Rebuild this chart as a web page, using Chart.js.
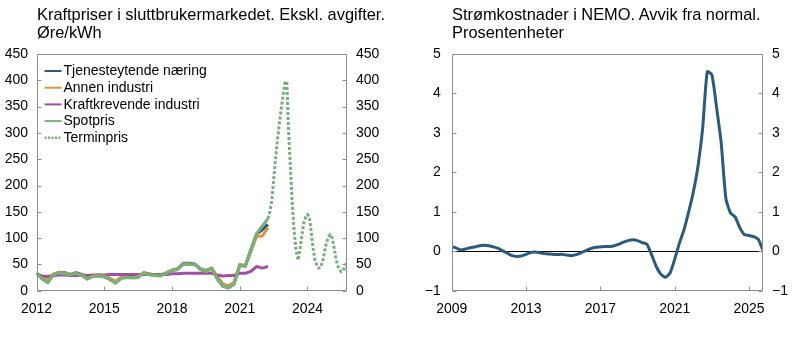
<!DOCTYPE html>
<html>
<head>
<meta charset="utf-8">
<script src="https://cdn.jsdelivr.net/npm/chart.js@4.4.1/dist/chart.umd.min.js"></script>
<style>
  html, body { margin: 0; padding: 0; background: #fff; }
  body { width: 797px; height: 346px; position: relative; overflow: hidden;
         font-family: "Liberation Sans", Arial, Helvetica, sans-serif; }
  .panel { position: absolute; top: 0; height: 346px; }
  .title { position: absolute; top: 5px; font-size: 16.4px; line-height: 18px; color: #000;
           white-space: nowrap; z-index: 2; }
</style>
</head>
<body>
<div class="panel" style="left:0;width:400px"><canvas id="prices" width="400" height="346"></canvas></div>
<div class="panel" style="left:400px;width:397px"><canvas id="nemo" width="397" height="346"></canvas></div>
<div class="title" style="left:37px">Kraftpriser i sluttbrukermarkedet. Ekskl. avgifter.<br>Øre/kWh</div>
<div class="title" style="left:452px">Strømkostnader i NEMO. Avvik fra normal.<br>Prosentenheter</div>

<script>
// ---------- Kraftpriser, kvartalstall fra 2012K1 (øre/kWh) ----------
const priceStartYear = 2012;
const tjenesteytende = [34,25,19,31, 35,34,31,34, 31,25,28,30, 28,23,17,25, 27,26,27,34,
                        32,30,30,34, 39,42,52,52, 51,42,38,43, 26,12,9,15, 49,48,79,108, 116,126];
const annenIndustri  = [33,24,19,31, 35,33,31,33, 30,24,28,29, 28,23,18,25, 26,25,27,34,
                        31,30,29,34, 39,41,51,51, 50,42,37,43, 25,11,9,14, 50,47,75,103, 104,120];
const kraftkrevende  = [31,28,27,29, 30,30,29,29, 30,29,30,30, 30,31,31,31, 31,31,31,31,
                        31,31,31,31, 32,32,33,33, 33,33,33,33, 30,28,29,29, 33,33,37,46, 43,46];
const spotpris       = [33,22,15,30, 34,32,30,33, 29,22,27,28, 26,21,14,23, 25,24,25,33,
                        30,29,28,33, 38,40,50,50, 50,40,36,42, 22,8,5,12, 48,46,78,109, 123,137];

// Terminpriser, månedlig fra april 2022
const terminStart = { year: 2022, month: 4 };
const terminpris = [137,150,170,210,250,285,315,345,370,395,398,300,230,160,110,75,58,78,105,128,
                    140,145,140,112,80,58,48,43,44,55,72,90,101,107,102,85,64,48,40,36,38,46,56];

const priceYTicks = [0,50,100,150,200,250,300,350,400,450];
const priceXTicks = [2012,2015,2018,2021,2024];

// ---------- Strømkostnader i NEMO, kvartalstall fra 2009K1 (prosentenheter) ----------
const nemoStartYear = 2009;
const nemoAvvik = [0.12,0.08,0.03,0.06, 0.09,0.11,0.14,0.15, 0.14,0.11,0.07,0.01, -0.05,-0.11,-0.13,-0.12,
                   -0.08,-0.03,-0.02,-0.04, -0.06,-0.07,-0.08,-0.08, -0.08,-0.10,-0.11,-0.08, -0.03,0.02,0.07,0.10,
                   0.11,0.12,0.12,0.14, 0.18,0.23,0.27,0.29, 0.27,0.22,0.18,-0.08, -0.38,-0.58,-0.66,-0.55,
                   -0.20,0.20,0.55,1.00, 1.50,2.15,3.10,4.55, 4.47,3.65,2.75,1.35, 0.97,0.87,0.60,0.42,
                   0.40,0.37,0.30,0.02];
const nemoYTicks = [-1,0,1,2,3,4,5];
const nemoXTicks = [2009,2013,2017,2021,2025];

// ---------- colours ----------
const C_BLUE = '#2b5a7d', C_ORANGE = '#e2923a', C_PURPLE = '#a050a6', C_GREEN = '#76b07b';
const FRAME = '#8e8e8e';

// quarter n after start -> decimal year (quarter start)
const quarterly = (start, vals) => vals.map((v, i) => ({ x: start + i / 4, y: v }));
const monthly = (start, vals) => vals.map((v, i) => ({ x: start.year + (start.month - 1 + i) / 12, y: v }));
const minusSign = v => (v < 0 ? '\u2212' + Math.abs(v) : String(v));

Chart.defaults.font.family = '"Liberation Sans", Arial, Helvetica, sans-serif';
Chart.defaults.font.size = 14;
Chart.defaults.color = '#000';
Chart.defaults.animation = false;

// axis box with inward tick marks
const framePlugin = {
  id: 'frame',
  afterDatasetsDraw(chart) {
    const { ctx, chartArea: a, scales } = chart;
    const L = Math.round(a.left) + 0.5, R = Math.round(a.right) - 0.5;
    const T = Math.round(a.top) + 0.5, B = Math.round(a.bottom) - 0.5;
    ctx.save();
    ctx.strokeStyle = FRAME;
    ctx.lineWidth = 1;
    ctx.beginPath();
    ctx.rect(L, T, R - L, B - T);
    const len = 4;
    scales.y.ticks.forEach(t => {
      const y = Math.round(scales.y.getPixelForValue(t.value)) + 0.5;
      ctx.moveTo(L, y); ctx.lineTo(L + len, y);
      ctx.moveTo(R, y); ctx.lineTo(R - len, y);
    });
    scales.x.ticks.forEach(t => {
      const x = Math.round(scales.x.getPixelForValue(t.value)) + 0.5;
      ctx.moveTo(x, B); ctx.lineTo(x, B - len);
    });
    ctx.stroke();
    ctx.restore();
  }
};

// black reference line at zero
const zeroLinePlugin = {
  id: 'zeroLine',
  beforeDatasetsDraw(chart) {
    const { ctx, chartArea: a, scales } = chart;
    const y = Math.round(scales.y.getPixelForValue(0)) + 0.5;
    ctx.save();
    ctx.strokeStyle = '#000';
    ctx.lineWidth = 1;
    ctx.beginPath();
    ctx.moveTo(a.left, y); ctx.lineTo(a.right, y);
    ctx.stroke();
    ctx.restore();
  }
};

// line-sample legend in the upper left of the plot
const lineLegendPlugin = {
  id: 'lineLegend',
  afterDraw(chart, args, opts) {
    const { ctx, chartArea: a } = chart;
    ctx.save();
    ctx.font = '14px "Liberation Sans", Arial, sans-serif';
    ctx.textBaseline = 'middle';
    ctx.fillStyle = '#000';
    chart.data.datasets.forEach((ds, i) => {
      const y = opts.top + i * opts.step;
      const x0 = a.left + opts.left;
      ctx.strokeStyle = ds.borderColor;
      ctx.lineWidth = ds.borderDash ? 2.5 : 2;
      ctx.setLineDash(ds.borderDash ? [2, 1.5] : []);
      ctx.beginPath();
      ctx.moveTo(x0, y); ctx.lineTo(x0 + opts.sample, y);
      ctx.stroke();
      ctx.fillText(ds.label, x0 + opts.sample + 2, y + 0.5);
    });
    ctx.restore();
  }
};

const fixedWidth = w => s => { s.width = w; };
const fixedHeight = h => s => { s.height = h; };

new Chart(document.getElementById('prices'), {
  type: 'line',
  data: {
    datasets: [
      { label: 'Tjenesteytende næring', data: quarterly(priceStartYear, tjenesteytende), borderColor: C_BLUE, order: 2 },
      { label: 'Annen industri', data: quarterly(priceStartYear, annenIndustri), borderColor: C_ORANGE, order: 1 },
      { label: 'Kraftkrevende industri', data: quarterly(priceStartYear, kraftkrevende), borderColor: C_PURPLE, order: 3 },
      { label: 'Spotpris', data: quarterly(priceStartYear, spotpris), borderColor: C_GREEN, order: 0 },
      { label: 'Terminpris', data: monthly(terminStart, terminpris), borderColor: C_GREEN, borderDash: [3, 2],
        borderWidth: 3, order: 0 }
    ]
  },
  options: {
    responsive: false,
    layout: { padding: { top: 54, left: 0, right: 0, bottom: 0 } },
    elements: { point: { radius: 0 }, line: { borderWidth: 3, tension: 0, borderCapStyle: 'butt', borderJoinStyle: 'round' } },
    plugins: { legend: { display: false }, tooltip: { enabled: false },
               lineLegend: { top: 71, step: 16.7, left: 8, sample: 17 } },
    scales: {
      x: { type: 'linear', min: 2012, max: 2025.75,
           afterBuildTicks: s => { s.ticks = priceXTicks.map(v => ({ value: v })); },
           afterFit: fixedHeight(55.3),
           grid: { display: false, drawTicks: false }, border: { display: false },
           ticks: { padding: 10, maxRotation: 0, callback: v => String(v) } },
      y: { min: 0, max: 450, position: 'left',
           afterBuildTicks: s => { s.ticks = priceYTicks.map(v => ({ value: v })); },
           afterFit: fixedWidth(36.5),
           grid: { display: false, drawTicks: false }, border: { display: false },
           ticks: { padding: 8.5, callback: v => String(v) } },
      y2: { min: 0, max: 450, position: 'right',
           afterBuildTicks: s => { s.ticks = priceYTicks.map(v => ({ value: v })); },
           afterFit: fixedWidth(53),
           grid: { display: false, drawTicks: false }, border: { display: false },
           ticks: { padding: 9, callback: v => String(v) } }
    }
  },
  plugins: [framePlugin, lineLegendPlugin]
});

new Chart(document.getElementById('nemo'), {
  type: 'line',
  data: {
    datasets: [
      { label: 'Strømkostnader i NEMO', data: quarterly(nemoStartYear, nemoAvvik), borderColor: C_BLUE }
    ]
  },
  options: {
    responsive: false,
    layout: { padding: { top: 54, left: 0, right: 0, bottom: 0 } },
    elements: { point: { radius: 0 }, line: { borderWidth: 3, tension: 0.2, borderJoinStyle: 'round' } },
    plugins: { legend: { display: false }, tooltip: { enabled: false } },
    scales: {
      x: { type: 'linear', min: 2009, max: 2025.75,
           afterBuildTicks: s => { s.ticks = nemoXTicks.map(v => ({ value: v })); },
           afterFit: fixedHeight(55.3),
           grid: { display: false, drawTicks: false }, border: { display: false },
           ticks: { padding: 10, maxRotation: 0, callback: v => String(v) } },
      y: { min: -1, max: 5, position: 'left',
           afterBuildTicks: s => { s.ticks = nemoYTicks.map(v => ({ value: v })); },
           afterFit: fixedWidth(51.7),
           grid: { display: false, drawTicks: false }, border: { display: false },
           ticks: { padding: 11, callback: minusSign } },
      y2: { min: -1, max: 5, position: 'right',
           afterBuildTicks: s => { s.ticks = nemoYTicks.map(v => ({ value: v })); },
           afterFit: fixedWidth(34),
           grid: { display: false, drawTicks: false }, border: { display: false },
           ticks: { padding: 9, callback: minusSign } }
    }
  },
  plugins: [framePlugin, zeroLinePlugin]
});
</script>
</body>
</html>
